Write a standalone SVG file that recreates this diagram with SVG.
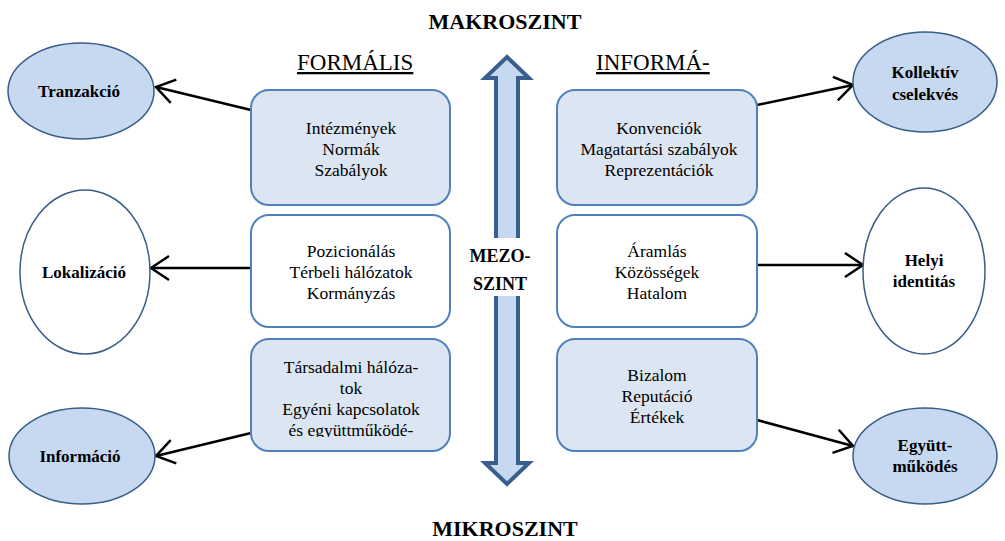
<svg xmlns="http://www.w3.org/2000/svg" width="1005" height="541" viewBox="0 0 1005 541" font-family="Liberation Serif, serif">
<style>
.bx{stroke:#4F81BD;stroke-width:2}
.fill{fill:#DCE6F2}
.wh{fill:#FFFFFF}
.ell{stroke:#385D8A;stroke-width:1.5}
text{font-family:'Liberation Serif','Times New Roman',serif}
.t{font-size:17.5px;fill:#000;text-anchor:middle}
.b{font-size:17px;font-weight:bold;fill:#000;text-anchor:middle}
.h{font-size:22px;font-weight:bold;fill:#000;text-anchor:middle}
.m{font-size:18px;font-weight:bold;fill:#000;text-anchor:middle}
.u{font-size:23px;fill:#000;text-decoration:underline}
.c{stroke:#000;stroke-width:2.5;fill:none}
</style>
<defs>
<marker id="ah" markerWidth="24" markerHeight="28" refX="20" refY="14" orient="auto" markerUnits="userSpaceOnUse">
<path d="M2,2 L20,14 L2,26" fill="none" stroke="#000" stroke-width="2.5"/>
</marker>
<clipPath id="clipBL"><rect x="251" y="339" width="199" height="98"/></clipPath>
</defs>

<rect width="1005" height="541" fill="#fff"/>

<text class="h" x="505" y="29">MAKROSZINT</text>
<text class="h" x="505" y="536">MIKROSZINT</text>
<text class="u" x="297" y="70">FORMÁLIS</text>
<text class="u" x="596" y="70">INFORMÁ-</text>

<g id="connectors">
<line class="c" x1="251" y1="110" x2="156" y2="87" marker-end="url(#ah)"/>
<line class="c" x1="251" y1="268" x2="151" y2="268" marker-end="url(#ah)"/>
<line class="c" x1="251" y1="433" x2="156" y2="456" marker-end="url(#ah)"/>
<line class="c" x1="757" y1="105" x2="853" y2="85" marker-end="url(#ah)"/>
<line class="c" x1="757" y1="265" x2="863" y2="265" marker-end="url(#ah)"/>
<line class="c" x1="757" y1="420" x2="853" y2="446" marker-end="url(#ah)"/>
</g>

<g id="axis">
<path d="M507,57 L529,78 L518,78 L518,463 L529,463 L507,484 L485,463 L496,463 L496,78 L485,78 Z" fill="#C6D9F1" stroke="#3A5F8F" stroke-width="4" stroke-linejoin="miter"/>
<rect x="463" y="238" width="82" height="58" fill="#fff"/>
<text class="m" x="500" y="262">MEZO-</text>
<text class="m" x="500" y="290">SZINT</text>
</g>

<g id="box-tl">
<rect class="bx fill" x="251" y="90" width="199" height="115" rx="18"/>
<text class="t" x="351" y="134">Intézmények</text>
<text class="t" x="351" y="155">Normák</text>
<text class="t" x="351" y="176">Szabályok</text>
</g>
<g id="box-ml">
<rect class="bx wh" x="251" y="215" width="199" height="112" rx="18"/>
<text class="t" x="351" y="257">Pozicionálás</text>
<text class="t" x="351" y="278">Térbeli hálózatok</text>
<text class="t" x="351" y="299">Kormányzás</text>
</g>
<g id="box-bl">
<rect class="bx fill" x="251" y="339" width="199" height="112" rx="18"/>
<g clip-path="url(#clipBL)">
<text class="t" x="351" y="373">Társadalmi hálóza-</text>
<text class="t" x="351" y="394">tok</text>
<text class="t" x="351" y="415">Egyéni kapcsolatok</text>
<text class="t" x="351" y="436">és együttműködé-</text>
</g>
</g>

<g id="box-tr">
<rect class="bx fill" x="557" y="90" width="200" height="115" rx="18"/>
<text class="t" x="659" y="134">Konvenciók</text>
<text class="t" x="659" y="155">Magatartási szabályok</text>
<text class="t" x="659" y="176">Reprezentációk</text>
</g>
<g id="box-mr">
<rect class="bx wh" x="557" y="215" width="200" height="112" rx="18"/>
<text class="t" x="657" y="257">Áramlás</text>
<text class="t" x="657" y="278">Közösségek</text>
<text class="t" x="657" y="299">Hatalom</text>
</g>
<g id="box-br">
<rect class="bx fill" x="557" y="339" width="200" height="112" rx="18"/>
<text class="t" x="657" y="381">Bizalom</text>
<text class="t" x="657" y="402">Reputáció</text>
<text class="t" x="657" y="423">Értékek</text>
</g>

<g id="ell-tranzakcio">
<ellipse class="ell" cx="81" cy="91" rx="73" ry="48" fill="#C6D9F1"/>
<text class="b" x="79" y="97">Tranzakció</text>
</g>
<g id="ell-lokalizacio">
<ellipse class="ell" cx="85" cy="272" rx="65" ry="82" fill="#fff"/>
<text class="b" x="84" y="278">Lokalizáció</text>
</g>
<g id="ell-informacio">
<ellipse class="ell" cx="82" cy="456" rx="73" ry="48" fill="#C6D9F1"/>
<text class="b" x="80" y="462">Információ</text>
</g>
<g id="ell-kollektiv">
<ellipse class="ell" cx="925" cy="82" rx="72" ry="50" fill="#C6D9F1"/>
<text class="b" x="925" y="78">Kollektív</text>
<text class="b" x="925" y="100">cselekvés</text>
</g>
<g id="ell-helyi">
<ellipse class="ell" cx="924" cy="271" rx="61" ry="83" fill="#fff"/>
<text class="b" x="924" y="266">Helyi</text>
<text class="b" x="924" y="287">identitás</text>
</g>
<g id="ell-egyutt">
<ellipse class="ell" cx="925" cy="456" rx="72" ry="48" fill="#C6D9F1"/>
<text class="b" x="925" y="451">Együtt-</text>
<text class="b" x="925" y="472">működés</text>
</g>
</svg>
